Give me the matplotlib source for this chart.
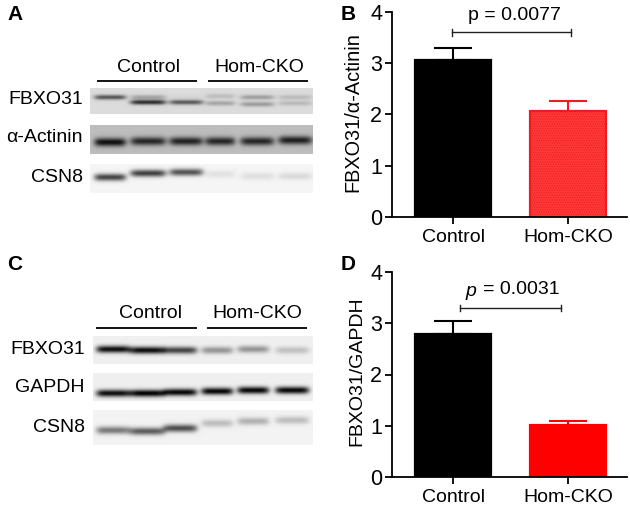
import numpy as np
import matplotlib
matplotlib.use("Agg")
import matplotlib.pyplot as plt

plt.rcParams['font.family'] = ['Liberation Sans', 'DejaVu Sans']
plt.rcParams['hatch.linewidth'] = 0.6

W, H = 630, 507

# valores
groups = ['Control', 'Hom-CKO']
ratio_actinin = [3.06, 2.07]
err_actinin = [0.24, 0.19]
ratio_gapdh = [2.80, 1.02]
err_gapdh = [0.25, 0.08]
y_ticks = [0, 1, 2, 3, 4]

# bandas dos blots: centro das canaletas, posição vertical (px) e escurecimento
lanes_a = [110, 148, 186, 220, 257, 295]
lanes_c = [113, 147, 180, 217, 253, 292]
half_a = [16, 18, 17, 15, 17, 17]
half_c = [17, 18, 17, 16, 16, 17]

fbxo_a_y = [97, 102, 102, 103, 104, 103]
fbxo_a_dark = [0.62, 0.80, 0.60, 0.25, 0.30, 0.16]
fbxo_a_upper_y = [97, 97, 97, 96, 97, 97]
fbxo_a_upper_dark = [0.0, 0.25, 0.03, 0.14, 0.28, 0.15]
actinin_y = [142, 141, 141, 141, 141, 140]
actinin_dark = [0.92, 0.80, 0.82, 0.80, 0.80, 0.84]
csn8_a_y = [177, 173, 172, 174, 176, 176]
csn8_a_dark = [0.72, 0.74, 0.66, 0.08, 0.09, 0.11]

fbxo_c_y = [349, 350, 350, 350, 349, 350]
fbxo_c_dark = [0.95, 0.95, 0.72, 0.38, 0.38, 0.20]
gapdh_y = [393, 393, 392, 391, 390, 390]
gapdh_dark = [0.95, 1.00, 0.98, 0.98, 0.98, 0.98]
csn8_c_y = [430, 431, 428, 423, 421, 420]
csn8_c_dark = [0.50, 0.62, 0.68, 0.22, 0.27, 0.22]


def fx(x, y, w, h):
    """Caixa em pixels da imagem -> coordenadas de figura."""
    return [x / W, 1 - (y + h) / H, w / W, h / H]


fig = plt.figure(figsize=(W / 100, H / 100), dpi=100)

# eixo em pixels para blots e textos soltos
page = fig.add_axes([0, 0, 1, 1])
page.set_xlim(0, W)
page.set_ylim(H, 0)
page.axis('off')


def draw_blot(box, bg, lanes, half, bands, sigma):
    """Blot como imagem em cinza: cada banda é uma faixa gaussiana."""
    x0, x1, y0, y1 = box
    xx, yy = np.meshgrid(np.arange(x0, x1, 0.5), np.arange(y0, y1, 0.5))
    img = np.full(xx.shape, bg, dtype=float)
    for ys, darks in bands:
        for c, hw, yb, d in zip(lanes, half, ys, darks):
            prof_x = np.exp(-np.abs((xx - c) / hw) ** 6)
            prof_y = np.exp(-((yy - yb) / sigma) ** 2)
            img -= d * bg * prof_x * prof_y
    page.imshow(np.clip(img, 0, 1), cmap='gray', vmin=0, vmax=1, aspect='auto',
                extent=(x0, x1, y1, y0), interpolation='bilinear', zorder=1)


draw_blot((90, 313, 88, 114), 0.86, lanes_a, half_a,
          [(fbxo_a_y, fbxo_a_dark), (fbxo_a_upper_y, fbxo_a_upper_dark)], 2.4)
draw_blot((90, 313, 125, 154), 0.74, lanes_a, half_a, [(actinin_y, actinin_dark)], 4.2)
draw_blot((90, 313, 164, 193), 0.96, lanes_a, half_a, [(csn8_a_y, csn8_a_dark)], 3.6)
draw_blot((93, 313, 336, 364), 0.94, lanes_c, half_c, [(fbxo_c_y, fbxo_c_dark)], 3.6)
draw_blot((93, 313, 373, 401), 0.94, lanes_c, half_c, [(gapdh_y, gapdh_dark)], 3.6)
draw_blot((93, 313, 410, 445), 0.95, lanes_c, half_c, [(csn8_c_y, csn8_c_dark)], 3.8)
page.set_xlim(0, W)
page.set_ylim(H, 0)

# rótulos dos blots
for txt, y in [('FBXO31', 99), ('α-Actinin', 138), ('CSN8', 177)]:
    page.text(83, y, txt, ha='right', va='center', fontsize=14)
for txt, y in [('FBXO31', 349), ('GAPDH', 388), ('CSN8', 427)]:
    page.text(85, y, txt, ha='right', va='center', fontsize=14)

# grupos acima dos blots
for x0, x1, y, cx, ty, txt in [(97, 197, 81, 148.5, 67, 'Control'),
                               (208, 308, 81, 259, 68, 'Hom-CKO'),
                               (96, 197, 328, 150, 313, 'Control'),
                               (207, 307, 328, 257, 314, 'Hom-CKO')]:
    page.plot([x0, x1], [y, y], color='black', lw=1.3, solid_capstyle='butt')
    page.text(cx, ty, txt, ha='center', va='center', fontsize=14)

# letras dos painéis
for txt, x, y in [('A', 7, 15), ('B', 341, 15), ('C', 7, 265), ('D', 341, 265)]:
    page.text(x, y, txt, fontsize=15, fontweight='bold', va='center', ha='left')


def draw_bars(box, values, errors, red_face, red_edge, hatch):
    ax = fig.add_axes(fx(*box))
    ax.patch.set_alpha(0)
    pos = [0, 1]
    faces = ['black', red_face]
    edges = ['black', red_edge]
    for p, v, e, fc, ec in zip(pos, values, errors, faces, edges):
        ax.errorbar(p, v, yerr=[[0], [e]], color=ec, capsize=13.7, elinewidth=1.5,
                    capthick=1.5, zorder=1)
        ax.bar(p, v, width=0.66, facecolor=fc, edgecolor=ec, linewidth=1.6, zorder=2,
               hatch=hatch if p == 1 else None)
    ax.set_xlim(-0.53, 1.51)
    ax.set_ylim(0, 4)
    ax.set_xticks(pos)
    ax.set_xticklabels(groups)
    ax.set_yticks(y_ticks)
    ax.tick_params(axis='y', labelsize=15.5, width=1.3, length=5, pad=2)
    ax.tick_params(axis='x', labelsize=14, width=1.3, length=5, pad=4)
    for s in ['top', 'right']:
        ax.spines[s].set_visible(False)
    for s in ['left', 'bottom']:
        ax.spines[s].set_linewidth(1.3)
    return ax


def bracket(ax, x0, x1, y):
    ax.plot([x0, x1], [y, y], color='#222222', lw=1, clip_on=False)
    for x in (x0, x1):
        ax.plot([x, x], [y - 0.06, y + 0.06], color='#222222', lw=1, clip_on=False)


ax_b = draw_bars((392, 12, 235, 205), ratio_actinin, err_actinin, '#ff3a3a', '#ee1c1c', '.......')
bracket(ax_b, -0.01, 1.02, 3.6)
page.text(514, 15, 'p = 0.0077', ha='center', va='center', fontsize=14)
page.text(353, 112, 'FBXO31/α-Actinin', rotation=90, ha='center', va='center', fontsize=14.3)

ax_d = draw_bars((392, 272, 235, 205), ratio_gapdh, err_gapdh, '#ff0000', '#ff0000', None)
bracket(ax_d, 0.06, 0.94, 3.3)
page.text(465, 291, 'p', ha='left', va='center', fontsize=14, style='italic')
page.text(483, 290, '= 0.0031', ha='left', va='center', fontsize=14)
page.text(357, 371, 'FBXO31/GAPDH', rotation=90, ha='center', va='center', fontsize=14)

fig.savefig('out.png', dpi=100)
